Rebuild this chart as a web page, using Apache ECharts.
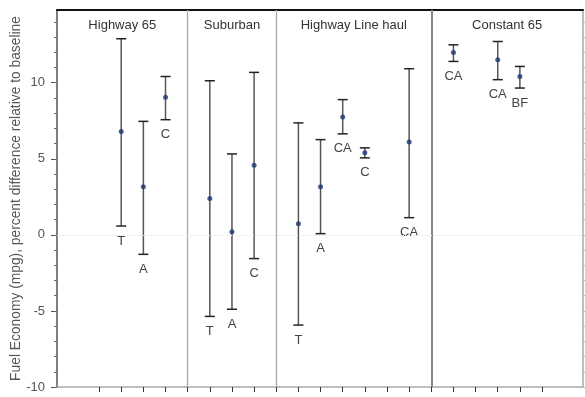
<!DOCTYPE html>
<html>
<head>
<meta charset="utf-8">
<script src="https://cdn.jsdelivr.net/npm/echarts@6/dist/echarts.min.js"></script>
<style>html,body{margin:0;padding:0;background:#fff}#c{width:585px;height:397px}</style>
</head>
<body>
<div id="c"></div>
<script>
// ---- data ----
const xPos   = [3, 4, 5, 7, 8, 9, 11, 12, 13, 14, 16, 18, 20, 21];
const means  = [6.79, 3.16, 9.04, 2.39, 0.21, 4.58, 0.73, 3.16, 7.75, 5.39, 6.11, 11.99, 11.51, 10.41];
const upper  = [12.89, 7.46, 10.41, 10.13, 5.32, 10.68, 7.36, 6.26, 8.89, 5.72, 10.92, 12.49, 12.71, 11.07];
const lower  = [0.58, -1.28, 7.57, -5.36, -4.89, -1.56, -5.93, 0.08, 6.64, 5.06, 1.13, 11.40, 10.20, 9.65];
const labels = ['T', 'A', 'C', 'T', 'A', 'C', 'T', 'A', 'CA', 'C', 'CA', 'CA', 'CA', 'BF'];
const panelNames  = ['Highway 65', 'Suburban', 'Highway Line haul', 'Constant 65'];
const panelBounds = [6, 10, 17];
const xMin = 0.1, xMax = 23.85;
const yMin = -10, yMax = 14.78;
const yTicks = [-10, -5, 0, 5, 10];
const yMinorTicks = [-10, -9, -8, -7, -6, -5, -4, -3, -2, -1, 0, 1, 2, 3, 4, 5, 6, 7, 8, 9, 10, 11, 12, 13, 14];
const xTicks = [2, 3, 4, 5, 6, 7, 8, 9, 10, 11, 12, 13, 14, 15, 16, 17, 18, 19, 20, 21, 22];
const yName = 'Fuel Economy (mpg), percent difference relative to baseline';

const FONT = 'Liberation Sans, Arial, sans-serif';

const barData = xPos.map((x, i) => [x, lower[i], upper[i]]);
const pointData = xPos.map((x, i) => [x, means[i]]);
const edges = [xMin].concat(panelBounds, [xMax]);
const panelData = panelNames.map((n, i) => [(edges[i] + edges[i + 1]) / 2]);

const chart = echarts.init(document.getElementById('c'), null, {renderer: 'canvas'});
chart.setOption({
  animation: false,
  backgroundColor: '#fff',
  grid: {left: 57, right: 2, top: 10, bottom: 10, containLabel: false, outerBoundsMode: 'none'},
  xAxis: [
    {type: 'value', min: xMin, max: xMax, position: 'bottom',
     axisLine: {show: true, onZero: false, lineStyle: {color: '#aaa', width: 1.5}},
     axisTick: {show: true, customValues: xTicks, length: 5, lineStyle: {color: '#333', width: 1}},
     axisLabel: {show: false}, splitLine: {show: false}},
    {type: 'value', min: xMin, max: xMax, position: 'top',
     axisLine: {show: true, onZero: false, lineStyle: {color: '#111', width: 2}},
     axisTick: {show: false}, axisLabel: {show: false}, splitLine: {show: false}}
  ],
  yAxis: [
    {type: 'value', min: yMin, max: yMax, position: 'left',
     axisLine: {show: true, onZero: false, lineStyle: {color: '#555', width: 1.5}},
     axisTick: {show: true, customValues: yTicks, length: 6, lineStyle: {color: '#555', width: 1}},
     axisLabel: {show: true, customValues: yTicks, margin: 12, color: '#555', fontSize: 13, fontFamily: FONT},
     splitLine: {show: false},
     name: yName, nameLocation: 'middle', nameGap: 28, nameRotate: 90, nameMoveOverlap: false,
     nameTextStyle: {color: '#555', fontSize: 13.8, fontFamily: FONT, padding: [0, 0, 6, 0]}},
    {type: 'value', min: yMin, max: yMax, position: 'left',
     axisLine: {show: false},
     axisTick: {show: true, customValues: yMinorTicks, length: 3, lineStyle: {color: '#666', width: 1}},
     axisLabel: {show: false}, splitLine: {show: false}},
    {type: 'value', min: yMin, max: yMax, position: 'right',
     axisLine: {show: true, onZero: false, lineStyle: {color: '#aaa', width: 1.5}},
     axisTick: {show: true, customValues: yMinorTicks, length: 2, lineStyle: {color: '#bbb', width: 1}},
     axisLabel: {show: false}, splitLine: {show: false}}
  ],
  series: [
    {
      type: 'custom', xAxisIndex: 0, yAxisIndex: 0, silent: true,
      data: panelData,
      renderItem: function (params, api) {
        const p = api.coord([api.value(0), 0]);
        return {type: 'text', style: {text: panelNames[params.dataIndex], x: p[0], y: params.coordSys.y + 15,
          align: 'center', verticalAlign: 'middle', fill: '#333', fontSize: 13, fontFamily: FONT}};
      },
      markLine: {
        silent: true, symbol: 'none', label: {show: false},
        data: [
          {xAxis: panelBounds[0], lineStyle: {color: '#aaa', width: 1.3, type: 'solid'}},
          {xAxis: panelBounds[1], lineStyle: {color: '#aaa', width: 1.3, type: 'solid'}},
          {xAxis: panelBounds[2], lineStyle: {color: '#888', width: 2, type: 'solid'}},
          {yAxis: 0, lineStyle: {color: '#e4e4e4', width: 1, type: 'dotted'}}
        ]
      }
    },
    {
      type: 'custom', xAxisIndex: 0, yAxisIndex: 0, silent: true,
      data: barData,
      z: 3,
      renderItem: function (params, api) {
        const x = api.value(0);
        const lo = api.coord([x, api.value(1)]);
        const hi = api.coord([x, api.value(2)]);
        const hw = 5;
        return {type: 'group', children: [
          {type: 'line', shape: {x1: lo[0], y1: lo[1], x2: hi[0], y2: hi[1]}, style: {stroke: '#555', lineWidth: 1.5}},
          {type: 'line', shape: {x1: lo[0] - hw, y1: lo[1], x2: lo[0] + hw, y2: lo[1]}, style: {stroke: '#222', lineWidth: 1.5}},
          {type: 'line', shape: {x1: hi[0] - hw, y1: hi[1], x2: hi[0] + hw, y2: hi[1]}, style: {stroke: '#222', lineWidth: 1.5}},
          {type: 'text', style: {text: labels[params.dataIndex], x: lo[0], y: lo[1] + 15,
            align: 'center', verticalAlign: 'middle', fill: '#444', fontSize: 13, fontFamily: FONT}}
        ]};
      }
    },
    {
      type: 'scatter', xAxisIndex: 0, yAxisIndex: 0, silent: true, z: 4,
      data: pointData, symbol: 'circle', symbolSize: 5,
      itemStyle: {color: '#1b3672'}
    }
  ]
});
</script>
</body>
</html>
